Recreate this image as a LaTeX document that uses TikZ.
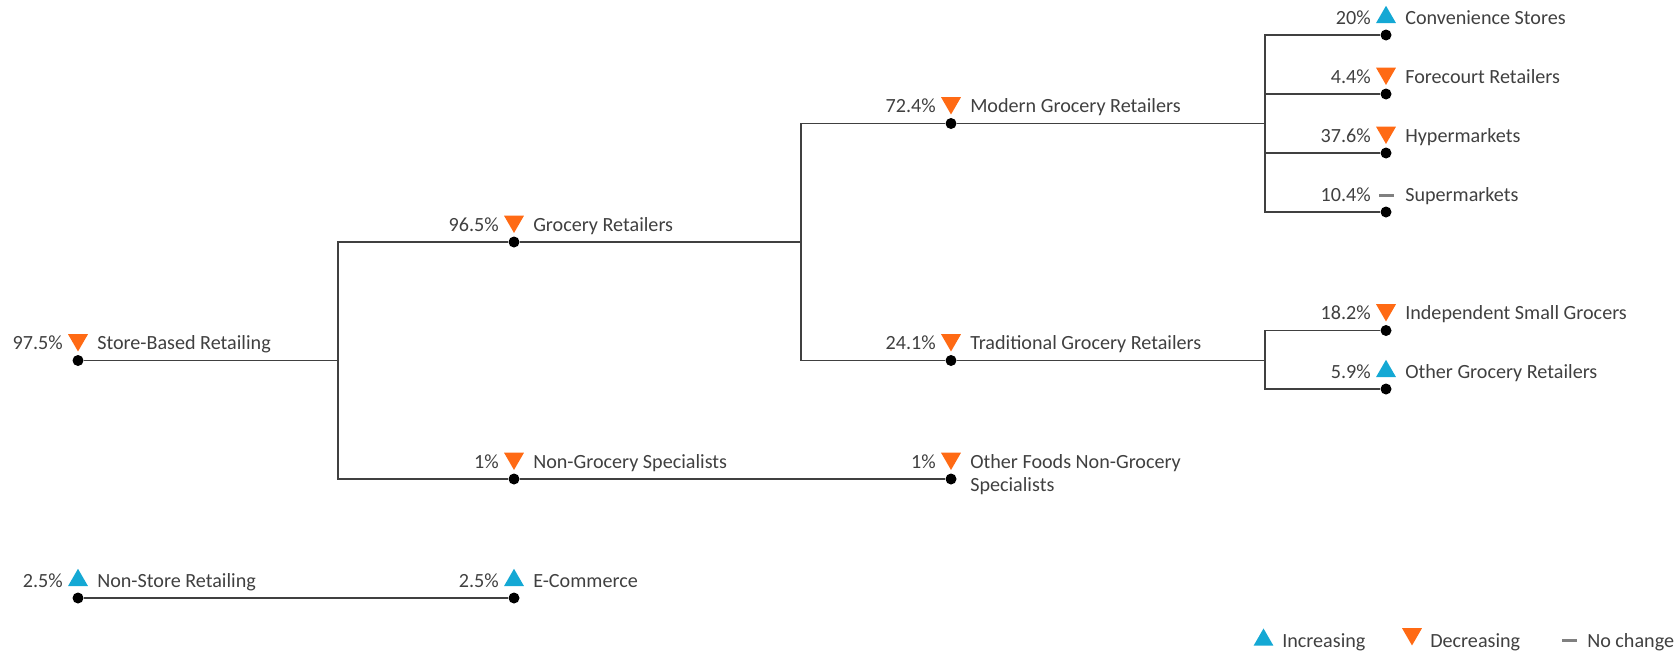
\documentclass[tikz,border=0pt]{standalone}
\usepackage{fontspec}
\setmainfont{Carlito}
\usetikzlibrary{shapes.geometric}
\definecolor{incr}{RGB}{20,168,212}
\definecolor{decr}{RGB}{255,106,20}
\definecolor{flat}{RGB}{128,128,128}
\definecolor{ink}{RGB}{64,64,64}
\tikzset{
	dot/.style={circle, fill=black, minimum size=8.25pt, inner sep=0pt},
	pct/.style={anchor=base east, inner sep=0pt, text=ink, font=\fontsize{15.1}{17.6}\selectfont},
	lbl/.style={anchor=base west, inner sep=0pt, text=ink, font=\fontsize{15.1}{17.6}\selectfont},
	upmark/.style={regular polygon, regular polygon sides=3, fill=incr, minimum size=17.25pt, inner sep=0pt, anchor=side 2},
	downmark/.style={regular polygon, regular polygon sides=3, shape border rotate=180, fill=decr, minimum size=17.25pt, inner sep=0pt, anchor=corner 1},
	flatmark/.style={rectangle, fill=flat, minimum width=11.25pt, minimum height=2.25pt, inner sep=0pt},
	wire/.style={draw=ink, line width=1pt}
}

\begin{document}
\begin{tikzpicture}[x=0.75pt, y=-0.75pt]
	\useasboundingbox (0,0) rectangle (1677,651);
	% Dots:
	\node[dot] (sbr) at (78, 360.5){};
	\node[dot] (nsr) at (78, 598){};
	\node[dot] (gro) at (514, 242){};
	\node[dot] (ngs) at (514, 479){};
	\node[dot] (eco) at (514, 598){};
	\node[dot] (mgr) at (951, 123.5){};
	\node[dot] (tgr) at (951, 360.5){};
	\node[dot] (ofs) at (951, 479){};
	\node[dot] (cvs) at (1386, 35){};
	\node[dot] (fcr) at (1386, 94){};
	\node[dot] (hyp) at (1386, 153){};
	\node[dot] (sup) at (1386, 212){};
	\node[dot] (isg) at (1386, 330.5){};
	\node[dot] (ogr) at (1386, 389){};
	\coordinate (j0) at (338, 0);
	\coordinate (j1) at (801, 0);
	\coordinate (j2) at (1265, 0);
	% Wires:
	\draw[wire] (sbr) -- (sbr -| j0);
	\draw[wire] (gro) -- (gro -| j0) |- (ngs);
	\draw[wire] (gro) -- (gro -| j1);
	\draw[wire] (mgr) -- (mgr -| j1) |- (tgr);
	\draw[wire] (mgr) -- (mgr -| j2);
	\draw[wire] (cvs) -- (cvs -| j2) |- (sup);
	\draw[wire] (fcr) -- (fcr -| j2);
	\draw[wire] (hyp) -- (hyp -| j2);
	\draw[wire] (tgr) -- (tgr -| j2);
	\draw[wire] (isg) -- (isg -| j2) |- (ogr);
	\draw[wire] (ngs) -- (ofs);
	\draw[wire] (nsr) -- (eco);
	% Labels:
	\node[pct] (sbr-p) at (63, 349.5){97.5\%};
	\node[downmark] (sbr-m) at (78, 352){};
	\node[lbl] (sbr-n) at (97, 349.5){Store-Based Retailing};
	\node[pct] (nsr-p) at (63, 587){2.5\%};
	\node[upmark] (nsr-m) at (78, 586.3){};
	\node[lbl] (nsr-n) at (97, 587){Non-Store Retailing};
	\node[pct] (gro-p) at (499, 231){96.5\%};
	\node[downmark] (gro-m) at (514, 233.5){};
	\node[lbl] (gro-n) at (533, 231){Grocery Retailers};
	\node[pct] (ngs-p) at (499, 468){1\%};
	\node[downmark] (ngs-m) at (514, 470.5){};
	\node[lbl] (ngs-n) at (533, 468){Non-Grocery Specialists};
	\node[pct] (eco-p) at (499, 587){2.5\%};
	\node[upmark] (eco-m) at (514, 586.3){};
	\node[lbl] (eco-n) at (533, 587){E-Commerce};
	\node[pct] (mgr-p) at (936, 112.5){72.4\%};
	\node[downmark] (mgr-m) at (951, 115){};
	\node[lbl] (mgr-n) at (970, 112.5){Modern Grocery Retailers};
	\node[pct] (tgr-p) at (936, 349.5){24.1\%};
	\node[downmark] (tgr-m) at (951, 352){};
	\node[lbl] (tgr-n) at (970, 349.5){Traditional Grocery Retailers};
	\node[pct] (ofs-p) at (936, 468){1\%};
	\node[downmark] (ofs-m) at (951, 470.5){};
	\node[lbl] (ofs-n) at (970, 468){\begin{tabular}[t]{@{}l@{}}Other Foods Non-Grocery\\Specialists\end{tabular}};
	\node[pct] (cvs-p) at (1371, 24){20\%};
	\node[upmark] (cvs-m) at (1386, 23.3){};
	\node[lbl] (cvs-n) at (1405, 24){Convenience Stores};
	\node[pct] (fcr-p) at (1371, 83){4.4\%};
	\node[downmark] (fcr-m) at (1386, 85.5){};
	\node[lbl] (fcr-n) at (1405, 83){Forecourt Retailers};
	\node[pct] (hyp-p) at (1371, 142){37.6\%};
	\node[downmark] (hyp-m) at (1386, 144.5){};
	\node[lbl] (hyp-n) at (1405, 142){Hypermarkets};
	\node[pct] (sup-p) at (1371, 201){10.4\%};
	\node[flatmark] (sup-m) at (1386, 195){};
	\node[lbl] (sup-n) at (1405, 201){Supermarkets};
	\node[pct] (isg-p) at (1371, 319.5){18.2\%};
	\node[downmark] (isg-m) at (1386, 322){};
	\node[lbl] (isg-n) at (1405, 319.5){Independent Small Grocers};
	\node[pct] (ogr-p) at (1371, 378){5.9\%};
	\node[upmark] (ogr-m) at (1386, 377.3){};
	\node[lbl] (ogr-n) at (1405, 378){Other Grocery Retailers};
	% Legend:
	\node[upmark] (leg-up) at (1263.5, 646){};
	\node[lbl] (leg-upt) at (1282, 647){Increasing};
	\node[downmark] (leg-dn) at (1412, 646){};
	\node[lbl] (leg-dnt) at (1430, 647){Decreasing};
	\node[flatmark] (leg-fl) at (1569, 640){};
	\node[lbl] (leg-flt) at (1587, 647){No change};
\end{tikzpicture}
\end{document}
